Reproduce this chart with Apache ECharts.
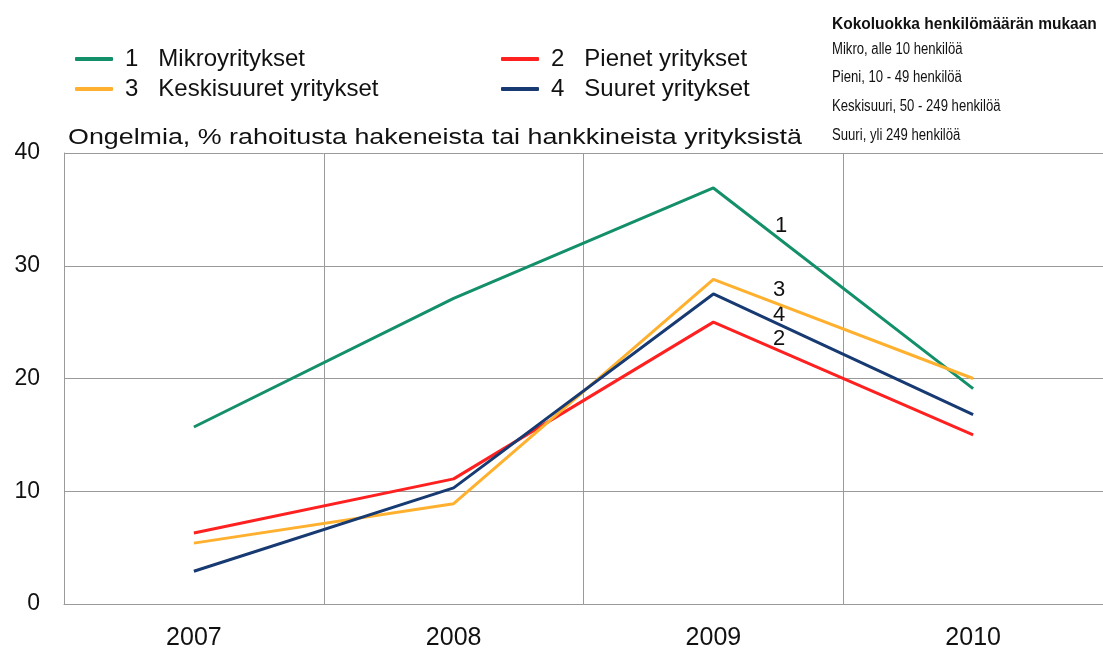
<!DOCTYPE html>
<html>
<head>
<meta charset="utf-8">
<script src="https://cdn.jsdelivr.net/npm/echarts@6/dist/echarts.min.js"></script>
<style>
  html, body { margin: 0; padding: 0; background: #fff; }
  #chart { width: 1103px; height: 653px; }
</style>
</head>
<body>
<div id="chart"></div>
<script>
// data
const years = ['2007', '2008', '2009', '2010']
const mikro = [15.7, 27.1, 36.9, 19.1]
const pienet = [6.3, 11.1, 25.0, 15.0]
const keski = [5.4, 8.9, 28.8, 20.0]
const suuret = [2.9, 10.3, 27.5, 16.8]
const yTicks = [0, 10, 20, 30, 40]

const names = ['1   Mikroyritykset', '2   Pienet yritykset', '3   Keskisuuret yritykset', '4   Suuret yritykset']
const colors = ['#139069', '#ff2020', '#ffb02e', '#173a72']

const chart = echarts.init(document.getElementById('chart'))

const lineSeries = (name, data, color) => ({
  name: name,
  type: 'line',
  data: data,
  symbol: 'none',
  lineStyle: { width: 3, color: color },
  itemStyle: { color: color },
  z: 3
})

const font = 'Arial, "Liberation Sans", sans-serif'

// plain text placed by its left/top corner, optionally stretched horizontally
const label = (x, y, text, size, sx, bold) => ({
  type: 'text',
  x: x, y: y,
  scaleX: sx || 1,
  style: {
    text: text, x: 0, y: 0,
    font: (bold ? 'bold ' : '') + size + 'px ' + font,
    fill: '#111',
    textVerticalAlign: 'top'
  }
})

const legendBase = {
  orient: 'vertical',
  top: 42,
  itemWidth: 38, itemHeight: 4, itemGap: 6,
  icon: 'roundRect',
  textStyle: { fontSize: 24, color: '#111', fontFamily: font, padding: [0, 0, 0, 7] }
}

let option = {
  animation: false,
  textStyle: { fontFamily: font },
  grid: { left: 64, top: 153, width: 1044, height: 451 },
  legend: [
    Object.assign({}, legendBase, { data: [names[0], names[2]], left: 70 }),
    Object.assign({}, legendBase, { data: [names[1], names[3]], left: 496 })
  ],
  xAxis: {
    type: 'category',
    data: years,
    boundaryGap: true,
    axisLine: { lineStyle: { color: '#9a9a9a', width: 1 } },
    axisTick: { show: false },
    splitLine: { show: true, interval: 0, lineStyle: { color: '#9a9a9a', width: 1 } },
    axisLabel: { fontSize: 25, color: '#111', margin: 22, fontFamily: font }
  },
  yAxis: {
    type: 'value',
    min: yTicks[0], max: yTicks[yTicks.length - 1], interval: 10,
    axisLine: { show: true, lineStyle: { color: '#9a9a9a', width: 1 } },
    axisTick: { show: false },
    splitLine: { lineStyle: { color: '#9a9a9a', width: 1 } },
    axisLabel: { fontSize: 23, color: '#111', margin: 24, fontFamily: font }
  },
  series: [
    lineSeries(names[0], mikro, colors[0]),
    lineSeries(names[1], pienet, colors[1]),
    lineSeries(names[2], keski, colors[2]),
    lineSeries(names[3], suuret, colors[3])
  ],
  graphic: [
    label(68, 127, 'Ongelmia, % rahoitusta hakeneista tai hankkineista yrityksistä', 22, 1.22),
    label(832, 17, 'Kokoluokka henkilömäärän mukaan', 16, 0.97, true),
    label(832, 42, 'Mikro, alle 10 henkilöä', 16, 0.82),
    label(832, 70, 'Pieni, 10 - 49 henkilöä', 16, 0.82),
    label(832, 99, 'Keskisuuri, 50 - 249 henkilöä', 16, 0.82),
    label(832, 128, 'Suuri, yli 249 henkilöä', 16, 0.82),
    label(775, 215, '1', 22),
    label(773, 279, '3', 22),
    label(773, 304, '4', 22),
    label(773, 328, '2', 22)
  ]
}
chart.setOption(option)
</script>
</body>
</html>
